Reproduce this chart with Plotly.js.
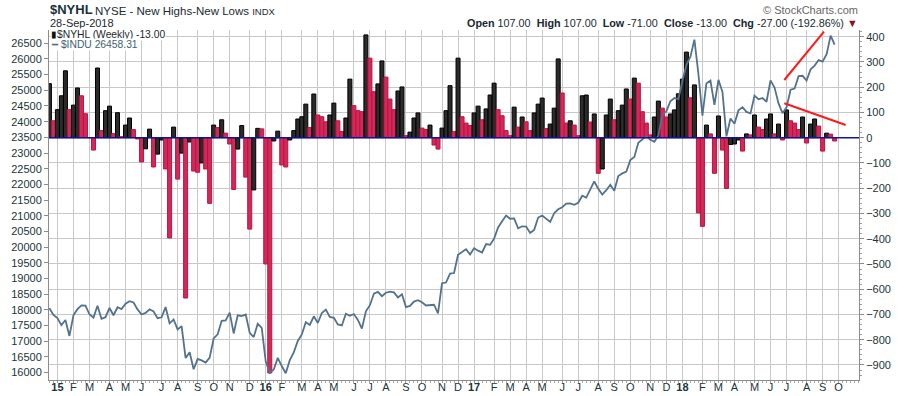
<!DOCTYPE html>
<html><head><meta charset="utf-8">
<script src="https://cdn.plot.ly/plotly-3.0.1.min.js"></script>
<style>html,body{margin:0;padding:0;background:#fff}#chart{width:900px;height:396px}</style>
</head><body><div id="chart"></div>
<script>
// Weekly bars; first bar is the week starting Monday 22-Dec-2014, last the week of 24-Sep-2018
const firstWeekStart = [2014, 11, 22];

// $NYHL weekly close (New Highs - New Lows)
const nyhl = [
  214, 67, 111, 166, 265, 111, 129, 197, 166, 95,
  0, -49, 276, 28, 107, 125, 16, 99, 4, 50,
  78, 32, -5, -96, -44, 34, -116, -65, -9, -124,
  -397, 42, -164, -61, -635, -17, -132, -137, -100, -124,
  -260, 50, 40, 71, 18, -25, -205, -45, 48, -156,
  -362, -207, 37, 35, -500, -932, -13, 26, -108, -116,
  -9, 28, 74, 83, 133, 40, 173, 90, 83, 63,
  90, 137, 67, 24, 78, 232, 127, 107, 103, 407,
  315, 182, 213, 304, 240, 153, 111, 185, 201, 8,
  22, 78, 98, 38, 32, 50, -29, -45, 38, 107,
  206, 24, 315, 83, 58, 48, 98, 125, 71, 114,
  169, 216, 111, 87, 28, 8, 121, 42, 82, 63,
  28, 98, 133, 157, 36, 54, 117, 312, 177, 58,
  67, 50, 8, 166, 169, 62, 94, -141, -124, 90,
  153, 71, 107, 129, 193, 153, 236, 216, 103, 58,
  11, 82, 145, 117, 82, 94, 110, 174, 232, 339,
  158, 209, -298, -351, 50, 15, -141, 86, -49, -201,
  -27, -25, -9, -53, 15, 11, 90, 42, 32, 74,
  94, 15, 54, -9, 110, 67, 58, 32, 82, -21,
  54, 74, 46, -53, 18, 14, -13
];

// $INDU weekly close
const indu = [
  18053, 17833, 17737, 17512, 17672, 17165, 17824, 18019, 18140, 18133,
  17856, 17749, 18128, 17713, 17763, 18058, 17826, 18080, 18024, 18191,
  18272, 18232, 18011, 17849, 17899, 18016, 17947, 17730, 17760, 18086,
  17568, 17690, 17373, 17477, 16460, 16643, 16102, 16433, 16385, 16315,
  16472, 17084, 17216, 17647, 17664, 17910, 17245, 17824, 17798, 17848,
  17265, 17129, 17553, 17425, 16347, 15988, 16094, 16466, 16205, 15974,
  16392, 16640, 17007, 17213, 17602, 17516, 17793, 17577, 17898, 18004,
  17774, 17741, 17535, 17501, 17873, 17807, 17865, 17675, 17400, 17949,
  18147, 18517, 18571, 18432, 18544, 18577, 18553, 18395, 18492, 18086,
  18124, 18262, 18308, 18240, 18138, 18146, 18161, 17888, 18848, 18868,
  19153, 19171, 19757, 19843, 19934, 19763, 19964, 19886, 19827, 20094,
  20071, 20269, 20624, 20822, 21005, 20903, 20915, 20597, 20663, 20656,
  20453, 20548, 20941, 21007, 20897, 20805, 21080, 21206, 21272, 21384,
  21395, 21350, 21414, 21638, 21580, 21830, 22093, 21858, 21675, 21814,
  21988, 21798, 22268, 22350, 22405, 22774, 22871, 23329, 23434, 23539,
  23422, 23358, 23558, 24232, 24329, 24652, 24754, 24719, 25296, 25803,
  26072, 26617, 25521, 24191, 25219, 25310, 24538, 25336, 24946, 23533,
  24103, 23933, 24360, 24463, 24311, 24263, 24831, 24715, 24753, 24635,
  25317, 25090, 24581, 24271, 24456, 25019, 25058, 25451, 25463, 25313,
  25669, 25790, 25965, 25917, 26155, 26744, 26458.31
];

const monthLetters = ['J','F','M','A','M','J','J','A','S','O','N','D'];

function weekDate(i) {
  return new Date(Date.UTC(firstWeekStart[0], firstWeekStart[1], firstWeekStart[2] + 7 * i));
}
const weeks = nyhl.map((_, i) => weekDate(i).toISOString().slice(0, 10));

// month ticks at the first weekly bar of each month (one extra week for October 2018)
const tickvals = [], ticktext = [];
for (let i = 0; i <= nyhl.length; i++) {
  const d = weekDate(i);
  if (d.getUTCDate() <= 7) {
    tickvals.push(d.toISOString().slice(0, 10));
    const m = d.getUTCMonth();
    ticktext.push(m === 0 ? '<b>' + String(d.getUTCFullYear()).slice(2) + '</b>' : monthLetters[m]);
  }
}

const UP_FILL = '#2b2b2b', UP_EDGE = '#000000';
const DN_FILL = '#d02a5b', DN_EDGE = '#c0103f';
const up = nyhl.map((v, i) => i === 0 || v > nyhl[i - 1]);
const fills = up.map(u => u ? UP_FILL : DN_FILL);
const edges = up.map(u => u ? UP_EDGE : DN_EDGE);

const FONT = 'Liberation Sans, Arial, sans-serif';
const TXT = '#1a3538';

const traces = [
  {
    type: 'bar', name: '$NYHL (Weekly)', x: weeks, y: nyhl, yaxis: 'y',
    marker: { color: fills, line: { color: edges, width: 1 } },
    hoverinfo: 'x+y'
  },
  {
    type: 'scatter', mode: 'lines', name: '$INDU', x: weeks, y: indu, yaxis: 'y2',
    line: { color: '#53728c', width: 1.8 }, hoverinfo: 'x+y'
  }
];

function px(xp) { return (xp - 49) / 810; }
function py(yp) { return (380 - yp) / 350; }

const layout = {
  width: 900, height: 396,
  margin: { l: 49, r: 41, t: 30, b: 16, pad: 0 },
  paper_bgcolor: '#ffffff', plot_bgcolor: '#ffffff',
  showlegend: false, bargap: 0,
  font: { family: FONT, size: 11, color: TXT },
  xaxis: {
    type: 'date',
    range: ['2014-12-21 07:00', '2018-11-05 14:00'],
    tickmode: 'array', tickvals: tickvals, ticktext: ticktext,
    showgrid: true, gridcolor: '#c8c8c8', gridwidth: 1,
    showline: true, linecolor: '#8c8c8c', linewidth: 1,
    ticks: 'outside', ticklen: 2, tickcolor: '#9a9a9a',
    ticklabelstandoff: -5,
    tickfont: { family: FONT, size: 11, color: TXT },
    minor: { ticks: 'outside', ticklen: 2, tickcolor: '#a8a8a8', dtick: 7 * 86400000, tick0: '2014-12-22', showgrid: false },
    zeroline: false, fixedrange: true
  },
  yaxis: {
    side: 'right',
    range: [-959.6, 426.5],
    tick0: 0, dtick: 100,
    showgrid: true, gridcolor: '#c8c8c8', gridwidth: 1,
    showline: true, linecolor: '#8c8c8c', linewidth: 1,
    ticks: 'outside', ticklen: 4, tickcolor: '#8c8c8c',
    minor: { ticks: 'outside', ticklen: 2, dtick: 20, tickcolor: '#a0a0a0', showgrid: false },
    tickfont: { family: FONT, size: 11, color: TXT },
    zeroline: false, fixedrange: true
  },
  yaxis2: {
    overlaying: 'y', side: 'left',
    range: [15760, 26924],
    tick0: 0, dtick: 500, tickformat: 'd',
    showgrid: false,
    showline: true, linecolor: '#8c8c8c', linewidth: 1,
    ticks: 'outside', ticklen: 4, tickcolor: '#8c8c8c',
    tickfont: { family: FONT, size: 11, color: TXT },
    zeroline: false, fixedrange: true
  },
  shapes: [
    { type: 'line', xref: 'paper', x0: 0, x1: 1, yref: 'y', y0: 0, y1: 0,
      line: { color: '#1212a0', width: 1.5 }, layer: 'above' },
    { type: 'line', xref: 'paper', yref: 'paper', x0: px(784.3), y0: py(80), x1: px(824), y1: py(31.7),
      line: { color: '#ff1a1a', width: 2 }, layer: 'above' },
    { type: 'line', xref: 'paper', yref: 'paper', x0: px(784.3), y0: py(103.3), x1: px(845.7), y1: py(125),
      line: { color: '#ff1a1a', width: 2 }, layer: 'above' }
  ],
  annotations: [
    { xref: 'paper', yref: 'paper', x: px(48), y: py(9.5), xanchor: 'left', yanchor: 'middle',
      text: '<b>$NYHL</b>', showarrow: false,
      font: { family: FONT, size: 13, color: '#17323a' } },
    { xref: 'paper', yref: 'paper', x: px(93), y: py(10.5), xanchor: 'left', yanchor: 'middle',
      text: 'NYSE - New Highs-New Lows <span style="font-size:9.5px">INDX</span>', showarrow: false,
      font: { family: FONT, size: 11.5, color: '#1a2a30' } },
    { xref: 'paper', yref: 'paper', x: px(48), y: py(23), xanchor: 'left', yanchor: 'middle',
      text: '28-Sep-2018', showarrow: false,
      font: { family: FONT, size: 11, color: '#1a2a30' } },
    { xref: 'paper', yref: 'paper', x: px(860), y: py(10), xanchor: 'right', yanchor: 'middle',
      text: '© StockCharts.com', showarrow: false,
      font: { family: FONT, size: 11, color: '#666666' } },
    { xref: 'paper', yref: 'paper', x: px(860), y: py(22.5), xanchor: 'right', yanchor: 'middle',
      text: '<b>Open</b> 107.00&nbsp; <b>High</b> 107.00&nbsp; <b>Low</b> -71.00&nbsp; <b>Close</b> -13.00&nbsp; <b>Chg</b> -27.00 (-192.86%) <span style="color:#8b1020">▼</span>',
      showarrow: false, font: { family: FONT, size: 10.8, color: '#1a2a30' } },
    { xref: 'paper', yref: 'paper', x: 0.001, y: py(35), xanchor: 'left', yanchor: 'middle',
      text: '<span style="color:#111">▮</span>$NYHL (Weekly) -13.00', showarrow: false,
      bgcolor: '#ffffff', borderpad: 0,
      font: { family: FONT, size: 10.3, color: '#1a2a30' } },
    { xref: 'paper', yref: 'paper', x: 0.001, y: py(44.5), xanchor: 'left', yanchor: 'middle',
      text: '<span style="color:#53728c">━</span> <span style="color:#3d6270">$INDU 26458.31</span>', showarrow: false,
      bgcolor: '#ffffff', borderpad: 0,
      font: { family: FONT, size: 10.3, color: '#3d6270' } }
  ]
};

Plotly.newPlot('chart', traces, layout, { displayModeBar: false, staticPlot: true });
</script>
</body></html>
